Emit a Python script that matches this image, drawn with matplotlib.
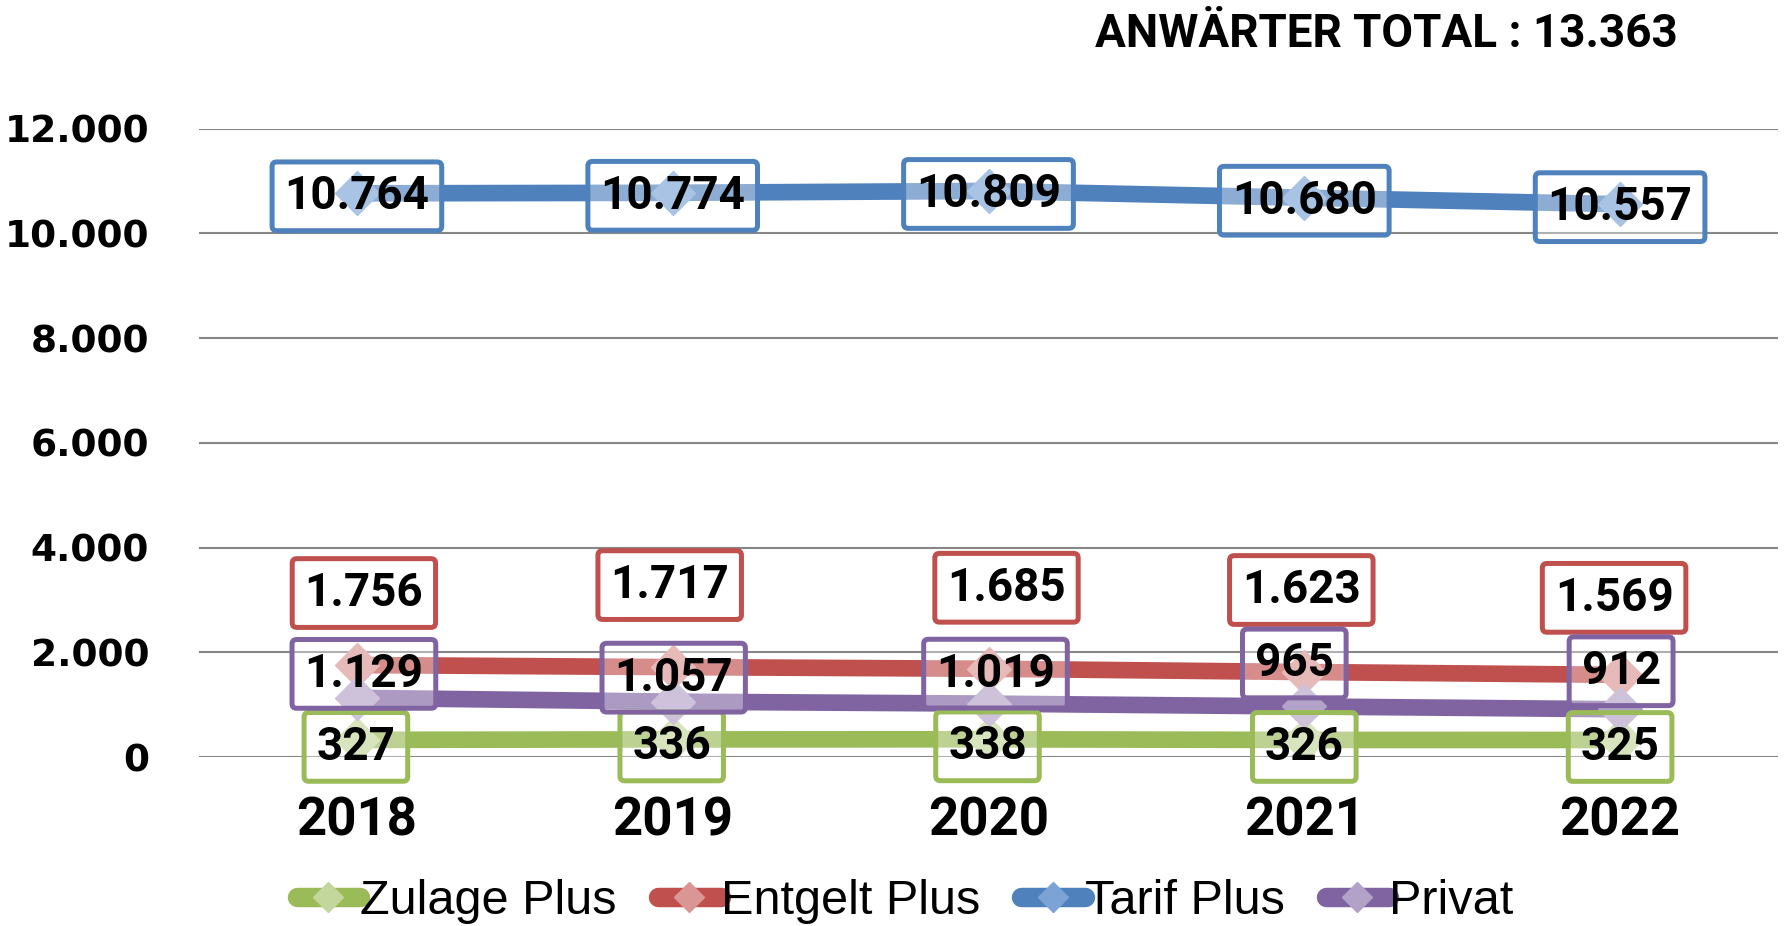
import numpy as np
import matplotlib
matplotlib.use("Agg")
import matplotlib.pyplot as plt
from matplotlib.lines import Line2D

# data
years = ["2018", "2019", "2020", "2021", "2022"]
series_names = ["Zulage Plus", "Entgelt Plus", "Tarif Plus", "Privat"]
zulage = [327, 336, 338, 326, 325]
entgelt = [1756, 1717, 1685, 1623, 1569]
tarif = [10764, 10774, 10809, 10680, 10557]
privat = [1129, 1057, 1019, 965, 912]
total = 13363

# styles
line_colors = ["#9BBB59", "#C0504D", "#4F81BD", "#8064A2"]
marker_colors = ["#C3D69B", "#D99694", "#7BA3D6", "#B3A2C7"]
# label offsets in pixels (dx, dy up) as placed in the original
label_offsets = [
    [(-1, -7), (-1, -7), (-1, -7), (0, -7), (0, -7)],
    [(7, 72), (-3, 82), (18, 81), (-3, 82), (-6, 77)],
    [(0, -3), (0, -3), (0, -3), (0, -3), (0, -3)],
    [(7, 24), (1, 24), (7, 30), (-10, 43), (1, 38)],
]


def fmt(v):
    return f"{v:,}".replace(",", ".")


fig = plt.figure(figsize=(17.85, 9.26), dpi=100)
ax = fig.add_axes([199 / 1785, 1 - 757 / 926, 1579 / 1785, 628.4 / 926])

x = np.arange(len(years))
all_series = [zulage, entgelt, tarif, privat]
for vals, name, lc, mc in zip(all_series, series_names, line_colors, marker_colors):
    ax.plot(x, vals, color=lc, lw=12, solid_capstyle="round", marker="D",
            markersize=22, markerfacecolor=mc, markeredgecolor=mc, zorder=3)

for vals, lc, offs in zip(all_series, line_colors, label_offsets):
    for xi, v, (dx, dy) in zip(x, vals, offs):
        ax.annotate(fmt(v), (xi, v), xytext=(dx * 0.72, dy * 0.72),
                    textcoords="offset points", ha="center", va="center",
                    fontsize=33, fontweight="bold", family="Roboto",
                    bbox=dict(boxstyle="round,pad=0.27,rounding_size=0.1",
                              fc=(1, 1, 1, 0.35), ec=lc, lw=3.6),
                    zorder=5)

ax.set_xlim(-0.5, 4.5)
ax.set_ylim(0, 12000)
ax.set_yticks(np.arange(0, 12001, 2000))
ax.set_yticklabels([fmt(v) for v in range(0, 12001, 2000)],
                   fontsize=27, fontweight="bold", family="DejaVu Sans")
ax.set_xticks(x)
ax.set_xticklabels(years, fontsize=38, fontweight="bold", family="Roboto")
ax.tick_params(axis="y", length=0, pad=36)
ax.tick_params(axis="x", length=0, pad=28)
ax.grid(axis="y", color="#868686", lw=1.5, zorder=0)
for s in ax.spines.values():
    s.set_visible(False)

fig.text(1386 / 1785, 1 - 34 / 926, f"ANWÄRTER TOTAL : {fmt(total)}",
         ha="center", va="center", fontsize=33, fontweight="bold",
         family="Roboto")

handles = [Line2D([], [], color=lc, lw=14, solid_capstyle="round", marker="D",
                  markersize=15, markerfacecolor=mc, markeredgecolor=mc)
           for lc, mc in zip(line_colors, marker_colors)]
fig.legend(handles, series_names, loc="center",
           bbox_to_anchor=(905 / 1785, 1 - 902 / 926),
           ncol=4, frameon=False, handlelength=1.3, handletextpad=0.0,
           columnspacing=0.85, prop={"family": "Liberation Sans", "size": 35})

fig.savefig("out.png", dpi=100)
